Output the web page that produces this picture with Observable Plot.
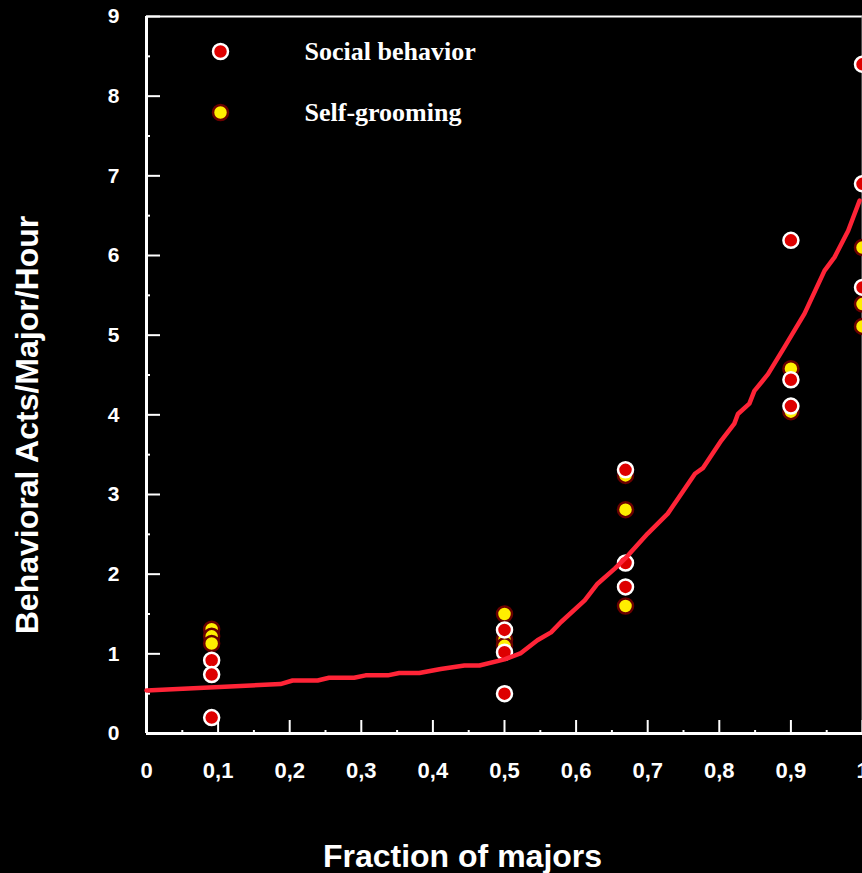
<!DOCTYPE html>
<html>
<head>
<meta charset="utf-8">
<script src="https://cdn.jsdelivr.net/npm/d3@7"></script>
<script src="https://cdn.jsdelivr.net/npm/@observablehq/plot@0.6"></script>
<style>
  html, body { margin: 0; padding: 0; background: #000; overflow: hidden; }
  #chart { width: 862px; height: 873px; }
</style>
</head>
<body>
<div id="chart"></div>
<script>
// ---- data ----
const socialX = [0.091, 0.091, 0.091, 0.5, 0.5, 0.5, 0.669, 0.669, 0.669, 0.9, 0.9, 0.9, 1, 1, 1];
const socialY = [0.92, 0.74, 0.20, 1.30, 1.02, 0.50, 3.31, 2.14, 1.84, 6.19, 4.44, 4.11, 8.40, 6.90, 5.60];

const groomX = [0.091, 0.091, 0.091, 0.5, 0.5, 0.5, 0.669, 0.669, 0.669, 0.9, 0.9, 1, 1, 1];
const groomY = [1.31, 1.22, 1.13, 1.50, 1.18, 1.10, 3.24, 2.81, 1.60, 4.58, 4.04, 6.10, 5.39, 5.11];

const fitX = [0, 0.187, 0.204, 0.239, 0.255, 0.29, 0.306, 0.337, 0.353, 0.381, 0.411, 0.444, 0.465, 0.5, 0.523, 0.546, 0.565, 0.579, 0.612, 0.630, 0.654, 0.672, 0.700, 0.728, 0.747, 0.766, 0.777, 0.803, 0.821, 0.826, 0.842, 0.849, 0.868, 0.891, 0.919, 0.947, 0.961, 0.980, 0.996];
const fitY = [0.54, 0.62, 0.665, 0.665, 0.70, 0.70, 0.73, 0.73, 0.76, 0.76, 0.81, 0.853, 0.853, 0.93, 1.01, 1.17, 1.27, 1.40, 1.67, 1.88, 2.07, 2.23, 2.51, 2.76, 3.01, 3.26, 3.33, 3.68, 3.89, 4.01, 4.14, 4.30, 4.51, 4.85, 5.27, 5.81, 5.98, 6.31, 6.69];

const xMajorTicks = [0, 0.1, 0.2, 0.3, 0.4, 0.5, 0.6, 0.7, 0.8, 0.9, 1];
const xTickLabels = ["0", "0,1", "0,2", "0,3", "0,4", "0,5", "0,6", "0,7", "0,8", "0,9", "1"];
const xMinorTicks = [0.05, 0.15, 0.25, 0.35, 0.45, 0.55, 0.65, 0.75, 0.85, 0.95];
const yMajorTicks = [0, 1, 2, 3, 4, 5, 6, 7, 8, 9];
const yMinorTicks = [0.5, 1.5, 2.5, 3.5, 4.5, 5.5, 6.5, 7.5, 8.5];

const seriesNames = ["Social behavior", "Self-grooming"];
const xTitle = "Fraction of majors";
const yTitle = "Behavioral Acts/Major/Hour";

// ---- build ----
const social = socialX.map((x, i) => ({x, y: socialY[i]}));
const groom = groomX.map((x, i) => ({x, y: groomY[i]}));
const fit = fitX.map((x, i) => ({x, y: fitY[i]}));

const W = 862, H = 873, mL = 146, mR = 0, mT = 16, mB = 140;
const fw = W - mL - mR, fh = H - mT - mB;

const sansB = "'Liberation Sans', Arial, sans-serif";
const serif = "'Liberation Serif', 'Times New Roman', serif";

const RED = "#dd0000", YEL = "#ffee00", DARK = "#6a0000", LINE = "#ff2437";

const chart = Plot.plot({
  width: W, height: H,
  marginLeft: mL, marginRight: mR, marginTop: mT, marginBottom: mB,
  style: {background: "#000", color: "#fff", fontFamily: sansB, overflow: "visible"},
  x: {domain: [0, 1]},
  y: {domain: [0, 9]},
  marks: [
    // axis frame
    Plot.ruleY([9], {stroke: "#fff", strokeWidth: 2}),
    Plot.ruleX([1], {stroke: "#999", strokeWidth: 2}),
    // ticks (inward)
    Plot.ruleX(xMajorTicks, {x: d => d, stroke: "#fff", strokeWidth: 2, insetTop: fh - 13}),
    Plot.ruleX(xMinorTicks, {x: d => d, stroke: "#fff", strokeWidth: 2, insetTop: fh - 3}),
    Plot.ruleY(yMajorTicks, {y: d => d, stroke: "#fff", strokeWidth: 2, insetRight: fw - 14}),
    Plot.ruleY(yMinorTicks, {y: d => d, stroke: "#fff", strokeWidth: 2, insetRight: fw - 4}),
    Plot.ruleY([0], {stroke: "#fff", strokeWidth: 3}),
    Plot.ruleX([0], {stroke: "#fff", strokeWidth: 3}),
    // tick labels
    Plot.axisX({anchor: "bottom", ticks: xMajorTicks, tickSize: 0, tickPadding: 29,
      tickFormat: d => xTickLabels[xMajorTicks.indexOf(d)], fontSize: 22, fontWeight: "bold", label: null}),
    Plot.axisY({anchor: "left", ticks: yMajorTicks, tickSize: 0, tickPadding: 27,
      tickFormat: d => String(d), fontSize: 21, fontWeight: "bold", label: null}),
    // data
    Plot.dot(groom, {x: "x", y: "y", r: 7.5, fill: YEL, stroke: DARK, strokeWidth: 2.5}),
    Plot.dot(social, {x: "x", y: "y", r: 7.5, fill: RED, stroke: "#fff", strokeWidth: 2.5}),
    Plot.line(fit, {x: "x", y: "y", stroke: LINE, strokeWidth: 4.5, strokeLinejoin: "round", strokeLinecap: "round"}),
    // legend
    Plot.dot([seriesNames[0]], {frameAnchor: "top-left", dx: 74, dy: 35, r: 7.5, fill: RED, stroke: "#fff", strokeWidth: 2.5}),
    Plot.dot([seriesNames[1]], {frameAnchor: "top-left", dx: 74, dy: 96, r: 7.5, fill: YEL, stroke: DARK, strokeWidth: 2.5}),
    Plot.text([seriesNames[0]], {frameAnchor: "top-left", dx: 158, dy: 35, text: d => d, textAnchor: "start", lineAnchor: "middle",
      fill: "#fff", fontSize: 26, fontWeight: "bold", fontFamily: serif}),
    Plot.text([seriesNames[1]], {frameAnchor: "top-left", dx: 158, dy: 96, text: d => d, textAnchor: "start", lineAnchor: "middle",
      fill: "#fff", fontSize: 26, fontWeight: "bold", fontFamily: serif}),
    // axis titles
    Plot.text([xTitle], {frameAnchor: "bottom", dx: -42, dy: 123, text: d => d, fill: "#fff", textAnchor: "middle", lineAnchor: "middle",
      fontSize: 32, fontWeight: "bold", fontFamily: sansB}),
    Plot.text([yTitle], {frameAnchor: "left", dx: -119, dy: 50, rotate: -90, text: d => d, fill: "#fff", textAnchor: "middle", lineAnchor: "middle",
      fontSize: 32, fontWeight: "bold", fontFamily: sansB})
  ]
});
document.getElementById("chart").appendChild(chart);
</script>
</body>
</html>
